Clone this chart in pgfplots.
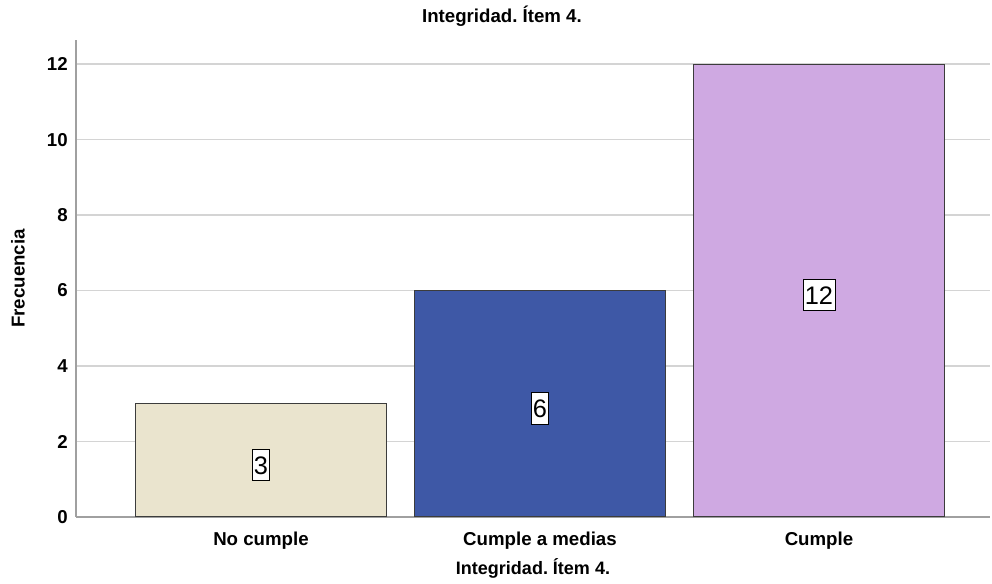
\documentclass[border=0pt]{standalone}
\usepackage{pgfplots}
\pgfplotsset{compat=1.18}
\usepackage{fontspec}
\setmainfont{Liberation Sans}
\frenchspacing

\definecolor{barA}{HTML}{EAE4CE}
\definecolor{barB}{HTML}{3E58A6}
\definecolor{barC}{HTML}{CFA9E2}
\definecolor{edgec}{HTML}{3C3C3C}
\definecolor{gridc}{HTML}{D4D4D4}
\definecolor{axisc}{HTML}{A0A0A0}

\begin{document}
\begin{tikzpicture}
\useasboundingbox (-57pt,-50.25pt) rectangle (687pt,387.75pt);
\begin{axis}[
    at={(0pt,0pt)}, anchor=south west,
    scale only axis,
    width=685.5pt, height=357.75pt,
    ybar, bar width=0.9,
    xmin=-0.663, xmax=2.613,
    ymin=0, ymax=12.64,
    xtick={0,1,2},
    xticklabels={No cumple, Cumple a medias, Cumple},
    ytick={0,2,4,6,8,10,12},
    axis x line*=bottom, axis y line*=left,
    axis line style={axisc, line width=1.3pt},
    tick style={draw=none},
    ymajorgrids,
    grid style={gridc, line width=1.2pt},
    /pgf/number format/assume math mode=true,
    ticklabel style={font=\fontsize{14}{16}\selectfont\bfseries},
    xticklabel style={anchor=center, yshift=-13.5pt},
    yticklabel style={anchor=east, inner sep=0pt, xshift=-6pt},
    every axis title shift=0pt,
    title={Integridad. Ítem 4.},
    title style={at={(axis description cs:0.466,1.0377)}, anchor=base, font=\fontsize{14}{16}\selectfont\bfseries},
    xlabel={Integridad. Ítem 4.},
    xlabel style={at={(axis description cs:0.5,0)}, anchor=center, yshift=-38.25pt, font=\fontsize{13.5}{16}\selectfont\bfseries},
    ylabel={Frecuencia},
    ylabel style={at={(axis description cs:-0.0635,0.5)}, anchor=center, font=\fontsize{14}{16}\selectfont\bfseries},
    every axis plot/.append style={bar shift=0pt, draw=edgec, line width=0.9pt},
    visualization depends on={y \as \rawy},
    nodes near coords,
    every node near coord/.append style={font=\fontsize{19}{21}\selectfont, anchor=center,
        shift={(axis direction cs:0,-\rawy/2)}, yshift=-3.4pt,
        fill=white, draw=black, line width=0.6pt, inner xsep=1.4pt, inner ysep=5pt,
        text height=13.7pt, text depth=0pt},
]
\addplot[fill=barA] coordinates {(0,3)};
\addplot[fill=barB] coordinates {(1,6)};
\addplot[fill=barC] coordinates {(2,12)};
\end{axis}
\end{tikzpicture}
\end{document}
